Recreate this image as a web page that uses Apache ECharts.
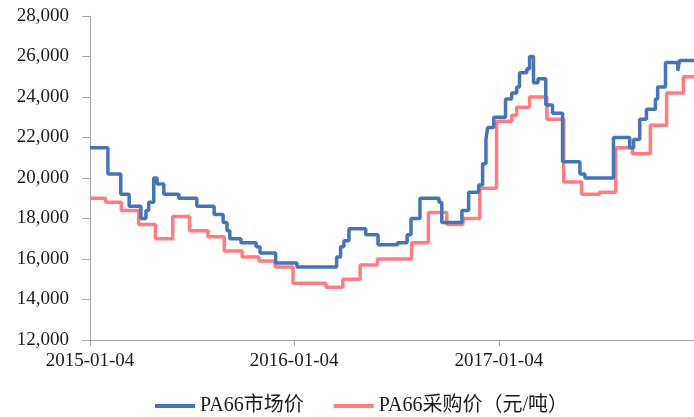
<!DOCTYPE html>
<html><head><meta charset="utf-8">
<script src="https://cdn.jsdelivr.net/npm/echarts@6/dist/echarts.min.js"></script>
<style>html,body{margin:0;padding:0;background:#fff}#c{width:694px;height:417px}</style>
</head><body><div id="c"></div>
<script>
const tickLabels = ['2015-01-04', '2016-01-04', '2017-01-04'];
const yTicks = [12000, 14000, 16000, 18000, 20000, 22000, 24000, 26000, 28000];
const axisStart = '2015-01-04';
const axisEnd = '2017-12-19';

const marketDates = ['2015-01-04','2015-02-05','2015-02-28','2015-03-15','2015-04-05','2015-04-14','2015-04-19','2015-04-28','2015-05-04','2015-05-16','2015-06-12','2015-07-14','2015-08-14','2015-08-30','2015-09-06','2015-09-11','2015-10-01','2015-10-28','2015-11-04','2015-12-02','2016-01-09','2016-03-20','2016-03-27','2016-04-02','2016-04-11','2016-05-11','2016-06-02','2016-07-07','2016-07-24','2016-07-31','2016-08-16','2016-09-19','2016-09-24','2016-10-30','2016-11-11','2016-11-29','2016-12-06','2016-12-12','2016-12-15','2016-12-26','2017-01-16','2017-01-27','2017-02-05','2017-02-10','2017-02-23','2017-02-28','2017-03-07','2017-03-15','2017-03-29','2017-04-10','2017-04-28','2017-05-29','2017-06-07','2017-07-28','2017-08-26','2017-09-02','2017-09-13','2017-09-25','2017-10-11','2017-10-15','2017-10-29','2017-11-20','2017-11-23','2017-12-19'];
const marketValues = [21500,20200,19200,18600,18000,18400,18800,20000,19700,19200,19000,18600,18200,17800,17400,17000,16800,16600,16300,15800,15600,16100,16600,16900,17500,17200,16700,16800,17200,18000,19000,18800,17800,18400,19300,19650,20700,21900,22500,23000,23900,24200,24500,25200,25400,26000,24700,24900,23600,23200,20800,20200,20000,22000,21500,21900,22900,23400,23900,24500,25700,25300,25800,25800];

const purchaseDates = ['2015-01-04','2015-02-01','2015-03-01','2015-04-01','2015-05-01','2015-06-01','2015-07-01','2015-08-03','2015-09-01','2015-10-03','2015-11-02','2015-12-01','2016-01-02','2016-03-01','2016-03-31','2016-05-01','2016-06-01','2016-08-01','2016-08-31','2016-10-03','2016-11-01','2016-12-01','2016-12-31','2017-01-27','2017-02-05','2017-02-28','2017-03-31','2017-04-30','2017-06-01','2017-07-03','2017-08-01','2017-08-31','2017-10-02','2017-10-31','2017-11-30','2017-12-19'];
const purchaseValues = [19000,18800,18400,17700,17000,18100,17400,17100,16400,16100,15900,15600,14800,14600,15000,15700,16000,16800,18300,17700,18000,19500,22800,23100,23500,24000,22900,19800,19200,19300,21500,21200,22600,24200,25000,25000];

const DAY = 86400000;
function utc(s) { const p = s.split('-').map(Number); return Date.UTC(p[0], p[1] - 1, p[2]); }
const base = utc(axisStart);
function dayOf(s) { return Math.round((utc(s) - base) / DAY); }
function fmtDay(v) { const d = new Date(base + Math.round(v) * DAY); const z = n => (n < 10 ? '0' : '') + n; return d.getUTCFullYear() + '-' + z(d.getUTCMonth() + 1) + '-' + z(d.getUTCDate()); }
function pairs(dates, vals) { return dates.map((d, i) => [dayOf(d), vals[i]]); }
const tickDays = tickLabels.map(dayOf);

const serif = '"Liberation Serif", "Times New Roman", "Noto Sans CJK SC", serif';
const axisColor = '#a6a6a6';
const chart = echarts.init(document.getElementById('c'));
chart.setOption({
  animation: false,
  backgroundColor: '#fff',
  grid: { left: 90, right: 0, top: 16, bottom: 77, containLabel: false },
  legend: {
    left: 150, top: 391, itemWidth: 40, itemHeight: 4, itemGap: 30, icon: 'rect',
    textStyle: { fontFamily: serif, fontSize: 20, color: '#1a1a1a' },
    data: ['PA66市场价', 'PA66采购价（元/吨）']
  },
  xAxis: {
    type: 'value', min: 0, max: dayOf(axisEnd),
    axisLine: { lineStyle: { color: axisColor, width: 1 } },
    axisTick: { show: true, length: 6, lineStyle: { color: axisColor }, customValues: tickDays },
    axisLabel: { customValues: tickDays, formatter: v => fmtDay(v), margin: 12, fontFamily: serif, fontSize: 19, color: '#1a1a1a' },
    splitLine: { show: false }
  },
  yAxis: {
    type: 'value', min: yTicks[0], max: yTicks[yTicks.length - 1], interval: 2000,
    axisLine: { show: true, lineStyle: { color: axisColor, width: 1 } },
    axisTick: { show: true, length: 8, lineStyle: { color: axisColor } },
    axisLabel: { margin: 21, fontFamily: serif, fontSize: 19, color: '#1a1a1a', formatter: v => v.toLocaleString('en-US') },
    splitLine: { show: false }
  },
  series: [
    { name: 'PA66市场价', type: 'line', step: 'end', symbol: 'none', data: pairs(marketDates, marketValues), lineStyle: { color: '#4674b8', width: 3.5 }, itemStyle: { color: '#4674b8' }, z: 3 },
    { name: 'PA66采购价（元/吨）', type: 'line', step: 'end', symbol: 'none', data: pairs(purchaseDates, purchaseValues), lineStyle: { color: '#ff7c80', width: 3.5 }, itemStyle: { color: '#ff7c80' }, z: 2 }
  ]
});
</script></body></html>
